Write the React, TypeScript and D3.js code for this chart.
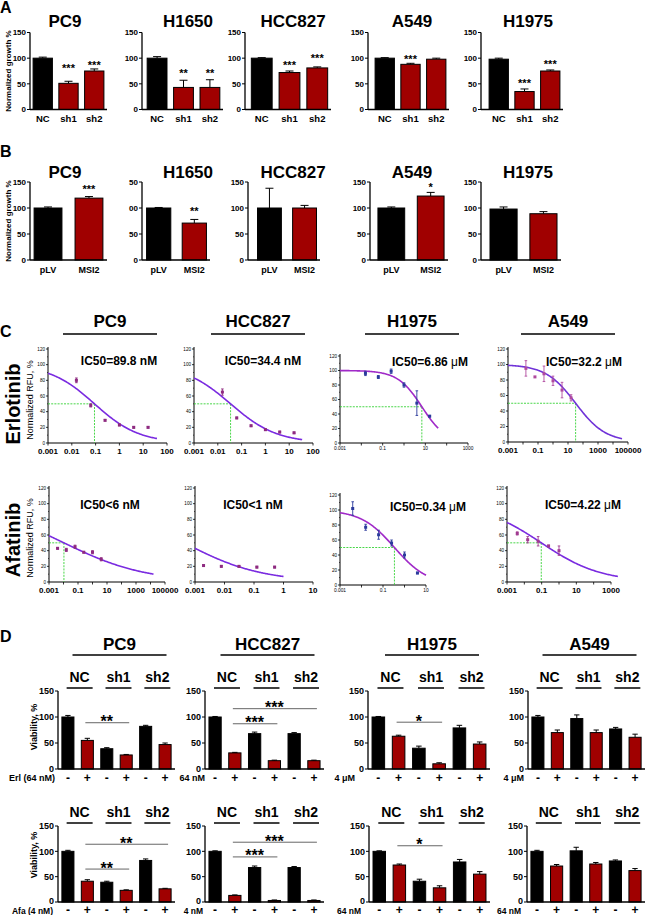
import React from 'react';
import * as d3 from 'd3';

const FONT = 'Arial, "Liberation Sans", Helvetica, sans-serif';
const RED = '#a00000';
const GREEN = '#36d336';

// ---------------- Panel A data ----------------
const aCells = ['PC9', 'H1650', 'HCC827', 'A549', 'H1975'];
const aCats = ['NC', 'sh1', 'sh2'];
const aValues = [
  [100, 51, 75],
  [100, 43, 43],
  [100, 72, 81],
  [100, 88, 98],
  [98, 35, 75],
];
const aErrors = [
  [2, 4, 4],
  [3, 14, 15],
  [1, 3, 2],
  [1, 2, 2],
  [2, 5, 2],
];
const aStars = [
  ['', '***', '***'],
  ['', '**', '**'],
  ['', '***', '***'],
  ['', '***', ''],
  ['', '***', '***'],
];
const aStarLevels = [
  [0, 86, 92],
  [0, 76, 76],
  [0, 92, 105],
  [0, 102, 0],
  [0, 56, 94],
];

// ---------------- Panel B data ----------------
const bCats = ['pLV', 'MSI2'];
const bValues = [
  [100, 119],
  [100, 71],
  [100, 100],
  [100, 123],
  [98, 89],
];
const bErrors = [
  [2, 3],
  [1, 7],
  [38, 5],
  [2, 7],
  [4, 4],
];
const bStars = [
  ['', '***'],
  ['', '**'],
  ['', ''],
  ['', '*'],
  ['', ''],
];
const bStarLevels = [
  [0, 140],
  [0, 98],
  [0, 0],
  [0, 144],
  [0, 0],
];

const barTicks = [0, 50, 100, 150];
const barTickText = ['0', '50', '100', '150'];
const bH1650TickText = ['0', '50', '00', '50'];

// ---------------- Panel C data ----------------
const cCells = ['PC9', 'HCC827', 'H1975', 'A549'];
const erlDoses = [0.0156, 0.0625, 0.25, 1, 4, 16];
const afaDoses = [0.0039, 0.0156, 0.0625, 0.25, 1, 4];
const afaDosesHCC827 = [0.00195, 0.0078, 0.031, 0.125, 0.5];
const afaDosesA549 = [0.0039, 0.0156, 0.0625, 0.25, 1];

const erlPC9 = [80, 48, 29, 23, 20, 20];
const erlPC9Err = [3, 2, 1, 1, 1, 1];
const erlHCC827 = [65, 32, 22, 17, 14, 13];
const erlHCC827Err = [4, 1, 1, 1, 1, 1];
const erlH1975 = [96, 91, 99, 80, 55, 37];
const erlH1975Err = [3, 2, 3, 3, 17, 1];
const erlA549 = [95, 84, 88, 79, 67, 57];
const erlA549Err = [10, 0, 10, 6, 10, 4];
const afaPC9 = [43, 41, 45, 38, 38, 29];
const afaPC9Err = [1, 2, 2, 1, 2, 2];
const afaHCC827 = [21, 20, 20, 19, 19];
const afaHCC827Err = [1, 1, 1, 1, 1];
const afaH1975 = [102, 77, 67, 56, 40, 16];
const afaH1975Err = [9, 4, 6, 4, 4, 1];
const afaA549 = [62, 54, 52, 46, 40];
const afaA549Err = [2, 4, 6, 1, 6];

const cDoses = [erlDoses, erlDoses, erlDoses, erlDoses, afaDoses, afaDosesHCC827, afaDoses, afaDosesA549];
const cValues = [erlPC9, erlHCC827, erlH1975, erlA549, afaPC9, afaHCC827, afaH1975, afaA549];
const cErrors = [erlPC9Err, erlHCC827Err, erlH1975Err, erlA549Err, afaPC9Err, afaHCC827Err, afaH1975Err, afaA549Err];

const cDomains = [
  [0.001, 100], [0.001, 100], [0.001, 1000], [0.001, 100000],
  [0.001, 100000], [0.001, 10], [0.001, 10], [0.001, 1000],
];
const cTickLabels = [
  ['0.001', '0.01', '0.1', '1', '10', '100'],
  ['0.001', '0.01', '0.1', '1', '10', '100'],
  ['0.001', '0.1', '10', '1000'],
  ['0.001', '0.1', '10', '1000', '100000'],
  ['0.001', '0.1', '10', '1000', '100000'],
  ['0.001', '0.01', '0.1', '1', '10'],
  ['0.001', '0.1', '10'],
  ['0.001', '0.1', '10', '1000'],
];
const cYTicks = ['0', '20', '40', '60', '80', '100', '120'];

// four-parameter logistic fits (top, IC50, Hill slope, last dose of fitted line)
const fitTop = [100, 100, 100, 100, 100, 100, 100, 100];
const fitIC50 = [0.0898, 0.0344, 6.86, 32.2, 0.0107, 0.00043, 0.34, 0.095];
const fitHill = [0.465, 0.448, 0.77, 0.436, 0.154, 0.333, 0.56, 0.253];
const fitEnd = [38, 35, 40, 40000, 16000, 1, 10, 2500];
const ic50Marks = [0.0898, 0.0344, 6.86, 32.2, 0.0107, null, 0.34, 0.095];
const ic50Text = [
  'IC50=89.8 nM', 'IC50=34.4 nM', 'IC50=6.86 μM', 'IC50=32.2 μM',
  'IC50<6 nM', 'IC50<1 nM', 'IC50=0.34 μM', 'IC50=4.22 μM',
];

// ---------------- Panel D data ----------------
const dCells = ['PC9', 'HCC827', 'H1975', 'A549'];
const dGroups = ['NC', 'sh1', 'sh2'];
const dSigns = ['-', '+', '-', '+', '-', '+'];
const erlValues = [
  [100, 55, 39, 27, 82, 47],
  [100, 31, 68, 16, 68, 16],
  [100, 63, 40, 10, 79, 48],
  [100, 70, 97, 70, 77, 61],
];
const erlErrors = [
  [3, 4, 2, 1, 2, 3],
  [1, 1, 3, 1, 2, 1],
  [1, 2, 4, 2, 5, 4],
  [3, 5, 7, 5, 3, 6],
];
const afaValues = [
  [100, 41, 39, 23, 82, 26],
  [100, 13, 68, 3, 68, 3],
  [100, 73, 41, 28, 79, 55],
  [100, 71, 101, 75, 81, 62],
];
const afaErrors = [
  [2, 3, 2, 1, 3, 1],
  [1, 1, 3, 1, 2, 1],
  [1, 2, 4, 4, 5, 5],
  [2, 3, 7, 3, 2, 4],
];
const erlDoseLabels = ['Erl (64 nM)', '64 nM', '4 μM', '4 μM'];
const afaDoseLabels = ['Afa (4 nM)', '4 nM', '64 nM', '64 nM'];
// [from bar, to bar, height (% viability), label]
const erlSig: [number, number, number, string][][] = [
  [[1, 3, 89, '**']],
  [[1, 3, 87, '***'], [1, 5, 116, '***']],
  [[1, 3, 90, '*']],
  [],
];
const afaSig: [number, number, number, string][][] = [
  [[1, 3, 65, '**'], [1, 5, 114, '**']],
  [[1, 3, 89, '***'], [1, 5, 118, '***']],
  [[1, 3, 111, '*']],
  [],
];

// ---------------- layout ----------------
const aAxisX = [30, 142, 245, 368, 481];
const aLo = [30, 144, 248, 372, 486];
const aHi = [107, 223, 331, 449, 563];
const bAxisX = [30, 142, 248, 370, 481];
const bLo = [30, 143, 254, 374, 486];
const bHi = [107, 210, 320, 448, 561];
const abTitleX = [65, 188, 293, 412, 528];

const cLayout = [
  { x0: 48, x1: 167, y0: 443, yT: 349, bold: true },
  { x0: 194, x1: 313, y0: 443, yT: 349, bold: true },
  { x0: 340, x1: 468, y0: 443, yT: 356, bold: false },
  { x0: 508, x1: 628, y0: 442, yT: 349, bold: true },
  { x0: 49, x1: 165, y0: 582, yT: 488, bold: true },
  { x0: 195, x1: 313, y0: 582, yT: 488, bold: true },
  { x0: 340, x1: 426, y0: 585, yT: 495, bold: false },
  { x0: 507, x1: 611, y0: 582, yT: 488, bold: true },
];
const cLabelX = [119, 263, 430, 584, 110, 253, 428, 583];
const cLabelY = [365, 365, 366, 366, 509, 509, 511, 509];
const cTitleX = [110, 258, 412, 568];
const cCurveColor = ['#7a2be0', '#7a2be0', '#a02ac8', '#7033d8', '#7a2be0', '#7a2be0', '#a02ac8', '#7a2be0'];
const cPointColor = ['#8e2a80', '#8e2a80', '#2b3a9c', '#b04a9e', '#8e2a80', '#8e2a80', '#2b3a9c', '#a03a90'];

const dAxisTop = [58, 205, 368, 528];
const dAxisBot = [58, 205, 369, 527];
const dHi = [175, 324, 490, 645];
const dDoseXTop = [55, 205, 355, 524];
const dDoseXBot = [53, 203, 361, 521];

// ---------------- components ----------------
function band(n: number, lo: number, hi: number, pi: number, po: number) {
  return d3.scaleBand<number>().domain(d3.range(n)).range([lo, hi]).paddingInner(pi).paddingOuter(po);
}

function BarPanel(p: any) {
  const y = d3.scaleLinear().domain([0, 150]).range([p.y0, p.yTop]);
  const x = band(p.values.length, p.lo, p.hi, p.padI, p.padO);
  const bw = x.bandwidth();
  const tickShift = p.tickShift === undefined ? 0.36 : p.tickShift;
  return (
    <g>
      {p.values.map((v: number, i: number) => {
        const cx = (x(i) as number) + bw / 2;
        const top = y(v + p.errors[i]);
        const cap = Math.min(bw * 0.22, 4);
        return (
          <g key={i}>
            <line x1={cx} x2={cx} y1={y(v)} y2={top} stroke="#000" strokeWidth={1} />
            <line x1={cx - cap} x2={cx + cap} y1={top} y2={top} stroke="#000" strokeWidth={1} />
            <rect x={x(i)} y={y(v)} width={bw} height={p.y0 - y(v)} fill={p.fills[i]} stroke="#000" strokeWidth={1} />
            {p.stars && p.stars[i] ? (
              <text x={cx} y={y(p.starLevels[i]) + p.starFont * 0.57} textAnchor="middle" fontSize={p.starFont} fontWeight="bold">
                {p.stars[i]}
              </text>
            ) : null}
            {p.cats ? (
              <text x={cx} y={p.catY} textAnchor="middle" fontSize={p.catFont} fontWeight="bold">
                {p.cats[i]}
              </text>
            ) : null}
          </g>
        );
      })}
      <line x1={p.axisX} x2={p.axisX} y1={p.y0} y2={p.yTop} stroke="#000" strokeWidth={1.3} />
      <line x1={p.axisX} x2={p.hi} y1={p.y0} y2={p.y0} stroke="#000" strokeWidth={1.3} />
      {barTicks.map((t, k) => (
        <g key={'t' + k}>
          <line x1={p.axisX - 3} x2={p.axisX} y1={y(t)} y2={y(t)} stroke="#000" strokeWidth={1} />
          <text x={p.axisX - 4} y={y(t) + p.tickFont * (k === 0 ? tickShift : 0.36)} textAnchor="end" fontSize={p.tickFont} fontWeight="bold">
            {p.tickText[k]}
          </text>
        </g>
      ))}
    </g>
  );
}

function IC50Label({ text, x, y }: any) {
  const parts = text.split('μ');
  return (
    <text x={x} y={y} textAnchor="middle" fontSize={12} fontWeight="bold">
      {parts[0]}
      {parts.length > 1 ? <tspan fontWeight="normal">μ</tspan> : null}
      {parts.length > 1 ? parts[1] : null}
    </text>
  );
}

function CurvePanel({ i }: { i: number }) {
  const L = cLayout[i];
  const dom = cDomains[i];
  const x = d3.scaleLog().domain(dom).range([L.x0, L.x1]);
  const y = d3.scaleLinear().domain([0, 120]).range([L.y0, L.yT]);
  const lo = Math.log10(dom[0]);
  const hiL = Math.log10(dom[1]);
  const decades = d3.range(Math.round(lo), Math.round(hiL) + 1).map((k) => Math.pow(10, k));
  const lf = lo;
  const lt = Math.log10(fitEnd[i]);
  const pts: [number, number][] = d3.range(0, 121).map((k) => {
    const d = Math.pow(10, lf + ((lt - lf) * k) / 120);
    return [x(d), y(fitTop[i] / (1 + Math.pow(d / fitIC50[i], fitHill[i])))];
  });
  const path = d3.line().curve(d3.curveLinear)(pts) || '';
  const ic = ic50Marks[i];
  const tickFs = L.bold ? 8 : 4.8;
  const col = cPointColor[i];
  return (
    <g>
      <line x1={L.x0} x2={L.x0} y1={L.y0} y2={L.yT - 2} stroke="#000" strokeWidth={1} />
      <line x1={L.x0} x2={L.x1} y1={L.y0} y2={L.y0} stroke="#000" strokeWidth={1} />
      {cYTicks.map((t, k) => (
        <g key={'y' + k}>
          <line x1={L.x0 - 2} x2={L.x0} y1={y(+t)} y2={y(+t)} stroke="#000" strokeWidth={0.8} />
          <line x1={L.x0 - 1} x2={L.x0} y1={y(+t + 10)} y2={y(+t + 10)} stroke="#000" strokeWidth={0.6} opacity={k < 6 ? 1 : 0} />
          <text x={L.x0 - 3} y={y(+t) + 1.6} textAnchor="end" fontSize={4.6}>
            {t}
          </text>
        </g>
      ))}
      {decades.map((d, k) => (
        <line key={'x' + k} x1={x(d)} x2={x(d)} y1={L.y0} y2={L.y0 + 2.5} stroke="#000" strokeWidth={0.8} />
      ))}
      {cTickLabels[i].map((t, k) => (
        <text key={'xl' + k} x={x(+t)} y={L.y0 + (L.bold ? 11 : 7)} textAnchor="middle" fontSize={tickFs} fontWeight={L.bold ? 'bold' : 'normal'}>
          {t}
        </text>
      ))}
      {ic !== null ? (
        <g stroke={GREEN} strokeWidth={0.9} strokeDasharray="2,1.2" fill="none">
          <line x1={L.x0} x2={x(ic as number)} y1={y(50)} y2={y(50)} />
          <line x1={x(ic as number)} x2={x(ic as number)} y1={y(50)} y2={L.y0} />
        </g>
      ) : null}
      <path d={path} fill="none" stroke={cCurveColor[i]} strokeWidth={1.6} />
      {cDoses[i].map((d, k) => {
        const v = cValues[i][k];
        const e = cErrors[i][k];
        const px = x(d);
        return (
          <g key={'p' + k}>
            {e > 0 ? (
              <g stroke={col} strokeWidth={0.9}>
                <line x1={px} x2={px} y1={y(v - e)} y2={y(v + e)} />
                <line x1={px - 1.3} x2={px + 1.3} y1={y(v - e)} y2={y(v - e)} />
                <line x1={px - 1.3} x2={px + 1.3} y1={y(v + e)} y2={y(v + e)} />
              </g>
            ) : null}
            <rect x={px - 1.5} y={y(v) - 1.5} width={3} height={3} fill={col} />
          </g>
        );
      })}
      <IC50Label text={ic50Text[i]} x={cLabelX[i]} y={cLabelY[i]} />
    </g>
  );
}

function DPanel({ c, row }: { c: number; row: number }) {
  const top = row === 0;
  const axisX = top ? dAxisTop[c] : dAxisBot[c];
  const hi = dHi[c];
  const y0 = top ? 769 : 902;
  const yTop = top ? 691 : 826;
  const values = top ? erlValues[c] : afaValues[c];
  const errors = top ? erlErrors[c] : afaErrors[c];
  const sig = top ? erlSig[c] : afaSig[c];
  const x = band(6, axisX, hi, 0.38, 0.2);
  const bw = x.bandwidth();
  const cx = (k: number) => (x(k) as number) + bw / 2;
  const y = d3.scaleLinear().domain([0, 150]).range([y0, yTop]);
  const groupY = top ? 682 : 817;
  const groupLineY = top ? 688 : 823;
  const signY = top ? 782 : 913.5;
  const mid = (axisX + hi) / 2 + 3;
  return (
    <g>
      {top ? (
        <g>
          <text x={mid} y={650} textAnchor="middle" fontSize={17} fontWeight="bold">
            {dCells[c]}
          </text>
          <line x1={mid - 47} x2={mid + 47} y1={655} y2={655} stroke="#000" strokeWidth={1.6} />
        </g>
      ) : null}
      {dGroups.map((g, k) => {
        const gc = (cx(2 * k) + cx(2 * k + 1)) / 2 + 2;
        return (
          <g key={g}>
            <text x={gc} y={groupY} textAnchor="middle" fontSize={14} fontWeight="bold">
              {g}
            </text>
            <line x1={gc - 13} x2={gc + 13} y1={groupLineY} y2={groupLineY} stroke="#000" strokeWidth={1.5} />
          </g>
        );
      })}
      <BarPanel
        axisX={axisX}
        lo={axisX}
        hi={hi}
        y0={y0}
        yTop={yTop}
        values={values}
        errors={errors}
        fills={['#000', RED, '#000', RED, '#000', RED]}
        padI={0.38}
        padO={0.2}
        tickText={barTickText}
        tickFont={9}
        tickShift={top ? 0.36 : 0.2}
      />
      {sig.map(([a, b, lvl, lab], k) => (
        <g key={'s' + k}>
          <line x1={cx(a) - 2} x2={cx(b) + 3} y1={y(lvl)} y2={y(lvl)} stroke="#666" strokeWidth={1} />
          <text x={(cx(a) + cx(b)) / 2} y={y(lvl) + 4.5} textAnchor="middle" fontSize={16} fontWeight="bold">
            {lab}
          </text>
        </g>
      ))}
      {dSigns.map((s, k) => (
        <text key={'g' + k} x={cx(k)} y={signY} textAnchor="middle" fontSize={12} fontWeight="bold">
          {s}
        </text>
      ))}
      <text x={top ? dDoseXTop[c] : dDoseXBot[c]} y={top ? signY - 1 : 914} textAnchor="end" fontSize={top ? 9 : 8.5} fontWeight="bold">
        {top ? erlDoseLabels[c] : afaDoseLabels[c]}
      </text>
    </g>
  );
}

export default function App() {
  return (
    <svg
      width={646}
      height={915}
      viewBox="0 0 646 915"
      style={{ position: 'absolute', left: 0, top: 0, display: 'block' }}
      fontFamily={FONT}
    >
      <rect width={646} height={915} fill="#fff" />

      {/* ---------- A ---------- */}
      <text x={0} y={13} fontSize={16} fontWeight="bold">A</text>
      <text transform="translate(11,71) rotate(-90)" textAnchor="middle" fontSize={8} fontWeight="bold">
        Normalized growth %
      </text>
      {aCells.map((cell, i) => (
        <g key={'A' + i}>
          <text x={abTitleX[i]} y={27} textAnchor="middle" fontSize={17} fontWeight="bold">
            {cell}
          </text>
          <BarPanel
            axisX={aAxisX[i]}
            lo={aLo[i]}
            hi={aHi[i]}
            y0={109.5}
            yTop={32.5}
            values={aValues[i]}
            errors={aErrors[i]}
            fills={['#000', RED, RED]}
            padI={0.25}
            padO={0.12}
            tickText={barTickText}
            tickFont={8}
            stars={aStars[i]}
            starLevels={aStarLevels[i]}
            starFont={11}
            cats={aCats}
            catY={122}
            catFont={9.5}
          />
        </g>
      ))}

      {/* ---------- B ---------- */}
      <text x={0} y={157} fontSize={16} fontWeight="bold">B</text>
      <text transform="translate(11,221) rotate(-90)" textAnchor="middle" fontSize={8} fontWeight="bold">
        Normalized growth %
      </text>
      {aCells.map((cell, i) => (
        <g key={'B' + i}>
          <text x={abTitleX[i]} y={178} textAnchor="middle" fontSize={17} fontWeight="bold">
            {cell}
          </text>
          <BarPanel
            axisX={bAxisX[i]}
            lo={bLo[i]}
            hi={bHi[i]}
            y0={260}
            yTop={182}
            values={bValues[i]}
            errors={bErrors[i]}
            fills={['#000', RED]}
            padI={0.32}
            padO={0.1}
            tickText={i === 1 ? bH1650TickText : barTickText}
            tickFont={8}
            stars={bStars[i]}
            starLevels={bStarLevels[i]}
            starFont={11}
            cats={bCats}
            catY={273}
            catFont={9}
          />
        </g>
      ))}

      {/* ---------- C ---------- */}
      <text x={0} y={337} fontSize={16} fontWeight="bold">C</text>
      {cCells.map((cell, i) => (
        <g key={'Ct' + i}>
          <text x={cTitleX[i]} y={327} textAnchor="middle" fontSize={17} fontWeight="bold">
            {cell}
          </text>
          <line x1={cTitleX[i] - 47} x2={cTitleX[i] + 47} y1={334} y2={334} stroke="#000" strokeWidth={1.6} />
        </g>
      ))}
      <text transform="translate(20,404) rotate(-90)" textAnchor="middle" fontSize={20} fontWeight="bold">
        Erlotinib
      </text>
      <text transform="translate(33,400) rotate(-90)" textAnchor="middle" fontSize={9}>
        Normalized RFU, %
      </text>
      <text transform="translate(20,540) rotate(-90)" textAnchor="middle" fontSize={20} fontWeight="bold">
        Afatinib
      </text>
      <text transform="translate(33,538) rotate(-90)" textAnchor="middle" fontSize={9}>
        Normalized RFU, %
      </text>
      {d3.range(8).map((i) => (
        <CurvePanel key={'C' + i} i={i} />
      ))}

      {/* ---------- D ---------- */}
      <text x={0} y={642} fontSize={16} fontWeight="bold">D</text>
      <text transform="translate(37,727) rotate(-90)" textAnchor="middle" fontSize={9} fontWeight="bold">
        Viability, %
      </text>
      <text transform="translate(37,855) rotate(-90)" textAnchor="middle" fontSize={9} fontWeight="bold">
        Viability, %
      </text>
      {dCells.map((_, c) => (
        <g key={'D' + c}>
          <DPanel c={c} row={0} />
          <DPanel c={c} row={1} />
        </g>
      ))}
    </svg>
  );
}
